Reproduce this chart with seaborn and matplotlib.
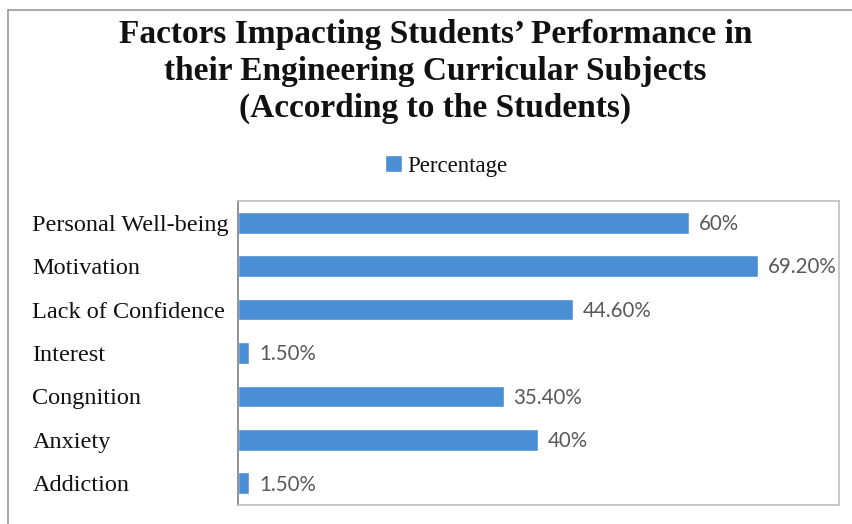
import matplotlib
matplotlib.use("Agg")
import matplotlib.pyplot as plt
from matplotlib.lines import Line2D
import seaborn as sns
import pandas as pd

# Survey results: factors students say affect their performance
factors = [
    "Personal Well-being",
    "Motivation",
    "Lack of Confidence",
    "Interest",
    "Congnition",
    "Anxiety",
    "Addiction",
]
percentages = [60.0, 69.2, 44.6, 1.5, 35.4, 40.0, 1.5]
value_labels = ["60%", "69.20%", "44.60%", "1.50%", "35.40%", "40%", "1.50%"]
series_name = "Percentage"

title = ("Factors Impacting Students\u2019 Performance in\n"
         "their Engineering Curricular Subjects\n"
         "(According to the Students)")

df = pd.DataFrame({"Factor": factors, series_name: percentages})

sns.set_theme(style="white")
plt.rcParams["font.family"] = ["Liberation Serif", "DejaVu Serif"]

bar_color = "#4a8fd6"

fig = plt.figure(figsize=(8.52, 5.24), dpi=100)
fig.patch.set_facecolor("white")
ax = fig.add_axes([0.2793, 0.0363, 0.7054, 0.5802])

sns.barplot(data=df, x=series_name, y="Factor", order=factors, orient="h",
            color=bar_color, width=0.5, saturation=1, label=series_name, ax=ax)

ax.set_xlim(0, 80)
ax.set_xlabel("")
ax.set_ylabel("")
ax.set_xticks([])

# Category labels, left aligned in the margin
ax.tick_params(axis="y", length=0, pad=148, labelsize=17.5, labelcolor="#111111")
for lab in ax.get_yticklabels():
    lab.set_horizontalalignment("left")

# Value labels at the end of each bar
for i, (v, txt) in enumerate(zip(percentages, value_labels)):
    ax.annotate(txt, xy=(v, i), xytext=(7, -1), textcoords="offset points",
                va="center", ha="left", fontsize=14.8, color="#595959",
                family=["Lato", "DejaVu Sans"])

# Plot-area frame
for side in ["top", "right", "bottom"]:
    ax.spines[side].set_visible(True)
    ax.spines[side].set_color("#bfbfbf")
    ax.spines[side].set_linewidth(1.2)
ax.spines["left"].set_color("#7f7f7f")
ax.spines["left"].set_linewidth(1.2)

leg = ax.legend(loc="center", bbox_to_anchor=(0.5235, 0.683),
                bbox_transform=fig.transFigure, frameon=False,
                handlelength=0.75, handleheight=0.75, handletextpad=0.25,
                fontsize=16.5)
for t in leg.get_texts():
    t.set_color("#111111")

fig.text(0.511, 0.864, title, ha="center", va="center", fontsize=24,
         fontweight="bold", color="#111111", linespacing=1.25)

# Chart-area border (top and left edges)
fig.add_artist(Line2D([8 / 852, 1.0], [1 - 10 / 524, 1 - 10 / 524],
                      transform=fig.transFigure, color="#9a9a9a", lw=1.2))
fig.add_artist(Line2D([8 / 852, 8 / 852], [0.0, 1 - 10 / 524],
                      transform=fig.transFigure, color="#9a9a9a", lw=1.2))

fig.savefig("out.png", dpi=100, facecolor="white")
